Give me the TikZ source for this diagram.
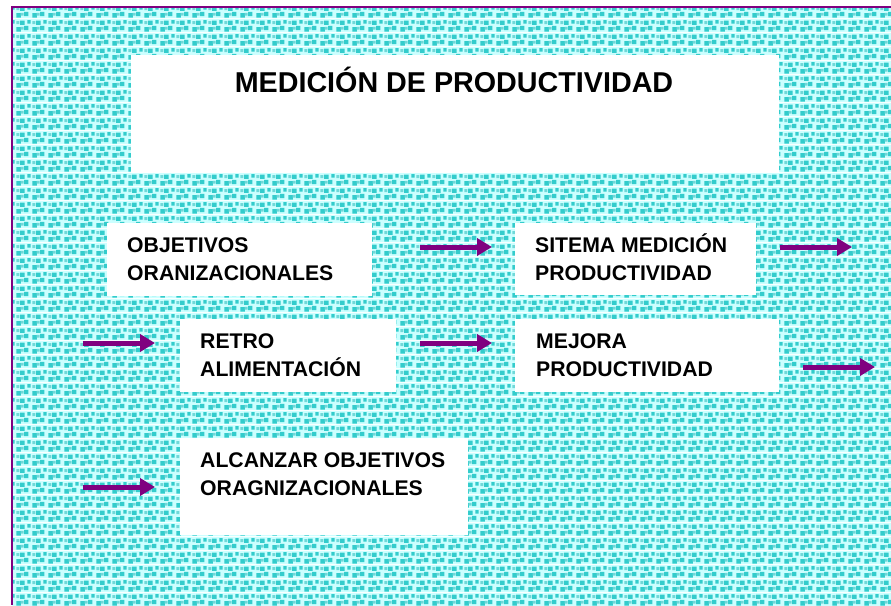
\documentclass[tikz,border=0pt]{standalone}
\usepackage{fontspec}
\setmainfont{Liberation Sans}
\usetikzlibrary{arrows.meta,patterns}
\definecolor{bgcyan}{HTML}{CCFFFF}
\definecolor{sqteal}{HTML}{33CCCC}
\definecolor{sqlight}{HTML}{70D8D8}
\definecolor{framepurple}{HTML}{800080}
\pgfdeclarepatterninherentlycolored{mosaic}{\pgfqpoint{0pt}{0pt}}{\pgfqpoint{16pt}{14pt}}{\pgfqpoint{16pt}{14pt}}{%
  \pgfsetfillcolor{bgcyan}%
  \pgfpathrectangle{\pgfqpoint{0pt}{0pt}}{\pgfqpoint{16pt}{14pt}}%
  \pgfusepath{fill}%
  \pgfsetfillcolor{sqteal}%
  \pgfpathrectangle{\pgfqpoint{0.5pt}{0.5pt}}{\pgfqpoint{4.6pt}{4.6pt}}%
  \pgfpathrectangle{\pgfqpoint{8.5pt}{2pt}}{\pgfqpoint{4.6pt}{4.6pt}}%
  \pgfpathrectangle{\pgfqpoint{4.5pt}{7.5pt}}{\pgfqpoint{4.6pt}{4.6pt}}%
  \pgfpathrectangle{\pgfqpoint{12pt}{9pt}}{\pgfqpoint{3.6pt}{3.6pt}}%
  \pgfusepath{fill}%
  \pgfsetfillcolor{sqlight}%
  \pgfpathrectangle{\pgfqpoint{5pt}{2.5pt}}{\pgfqpoint{3pt}{3pt}}%
  \pgfpathrectangle{\pgfqpoint{0.5pt}{8.5pt}}{\pgfqpoint{3pt}{3pt}}%
  \pgfusepath{fill}%
}
\tikzset{
  box/.style={anchor=north west, fill=white, draw=none, inner sep=0pt},
  lbl/.style={anchor=base west, inner sep=0pt, font=\fontsize{21.2}{28}\selectfont\bfseries},
  ttl/.style={anchor=base, inner sep=0pt, font=\fontsize{28.7}{34}\selectfont\bfseries},
  flow/.style={draw=framepurple, line width=5pt, -{Triangle[length=15pt,width=17pt]}},
}
\begin{document}
\begin{tikzpicture}[x=1pt,y=-1pt]
\useasboundingbox (0,0) rectangle (891,605);
\fill[white] (0,0) rectangle (891,605);
\fill[pattern=mosaic] (12,7) rectangle (891,605);
\draw[framepurple, line width=2.5pt] (12,605) -- (12,7) -- (891,7);

% boxes
\node[box, minimum width=648pt, minimum height=118pt] (titlebox) at (131,55) {};
\node[box, minimum width=265pt, minimum height=73pt] (objbox) at (107,223) {};
\node[box, minimum width=241pt, minimum height=72pt] (sisbox) at (515,223) {};
\node[box, minimum width=216pt, minimum height=73pt] (retbox) at (180,319) {};
\node[box, minimum width=264pt, minimum height=73pt] (mejbox) at (515,319) {};
\node[box, minimum width=288pt, minimum height=97pt] (alcbox) at (180,438) {};

% texts
\node[ttl] (title) at (454,92) {MEDICIÓN DE PRODUCTIVIDAD};
\node[lbl] (obj1) at (127,252) {OBJETIVOS};
\node[lbl] (obj2) at (127,280) {ORANIZACIONALES};
\node[lbl] (sis1) at (535,252) {SITEMA MEDICIÓN};
\node[lbl] (sis2) at (535,280) {PRODUCTIVIDAD};
\node[lbl] (ret1) at (200,348) {RETRO};
\node[lbl] (ret2) at (200,376) {ALIMENTACIÓN};
\node[lbl] (mej1) at (536,348) {MEJORA};
\node[lbl] (mej2) at (536,376) {PRODUCTIVIDAD};
\node[lbl] (alc1) at (200,467) {ALCANZAR OBJETIVOS};
\node[lbl] (alc2) at (200,495) {ORAGNIZACIONALES};

% arrow end points
\coordinate (a1s) at (420,247); \coordinate (a1e) at (492,247);
\coordinate (a2s) at (780,247); \coordinate (a2e) at (852,247);
\coordinate (a3s) at (83,343);  \coordinate (a3e) at (155,343);
\coordinate (a4s) at (420,343); \coordinate (a4e) at (492,343);
\coordinate (a5s) at (803,367); \coordinate (a5e) at (875,367);
\coordinate (a6s) at (83,487);  \coordinate (a6e) at (155,487);

\draw[flow] (a1s) -- (a1e);
\draw[flow] (a2s) -- (a2e);
\draw[flow] (a3s) -- (a3e);
\draw[flow] (a4s) -- (a4e);
\draw[flow] (a5s) -- (a5e);
\draw[flow] (a6s) -- (a6e);
\end{tikzpicture}
\end{document}
